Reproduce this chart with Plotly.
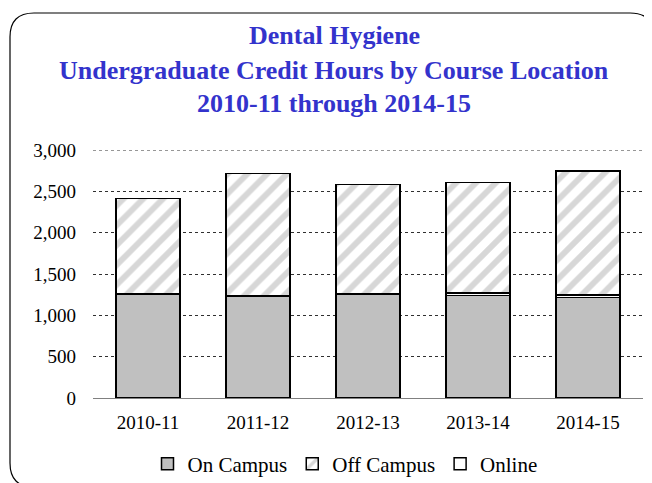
import plotly.graph_objects as go

years = ["2010-11", "2011-12", "2012-13", "2013-14", "2014-15"]
on_campus = [1260, 1232, 1255, 1240, 1216]
online = [0, 0, 8, 28, 32]
off_campus = [1152, 1484, 1317, 1336, 1500]
y_ticks = [0, 500, 1000, 1500, 2000, 2500, 3000]
y_tick_labels = ["0", "500", "1,000", "1,500", "2,000", "2,500", "3,000"]
title_lines = ["Dental Hygiene", "Undergraduate Credit Hours by Course Location", "2010-11 through 2014-15"]

OFF = 8  # page body margin
W, H = 652 - OFF, 483 - OFF
L, R, T, B = 93 - OFF, 643 - OFF, 150 - OFF, 398 - OFF
YMAX = 3000

font = "Liberation Serif, Times New Roman, serif"
line = dict(color="black", width=1.5)

fig = go.Figure()
fig.add_trace(go.Bar(x=years, y=on_campus, name="On Campus", legendrank=1,
                     marker=dict(color="#c0c0c0", line=line)))
fig.add_trace(go.Bar(x=years, y=online, name="Online", legendrank=3,
                     marker=dict(color="white", line=line)))
fig.add_trace(go.Bar(x=years, y=off_campus, name="Off Campus", legendrank=2,
                     marker=dict(color="white", line=line,
                                 pattern=dict(shape="/", fgcolor="#b0b0b0", bgcolor="white",
                                              size=14, solidity=0.42))))

def px(x):
    return (x - OFF - L) / (R - L)

def py(y):
    return (B - (y - OFF)) / (B - T)

x0, x1, y0, y1, r = 10, 654, 13, 487, 24
path = (f"M {px(x0 + r)},{py(y0)} L {px(x1 - r)},{py(y0)} "
        f"Q {px(x1)},{py(y0)} {px(x1)},{py(y0 + r)} "
        f"L {px(x1)},{py(y1 - r)} Q {px(x1)},{py(y1)} {px(x1 - r)},{py(y1)} "
        f"L {px(x0 + r)},{py(y1)} Q {px(x0)},{py(y1)} {px(x0)},{py(y1 - r)} "
        f"L {px(x0)},{py(y0 + r)} Q {px(x0)},{py(y0)} {px(x0 + r)},{py(y0)} Z")

annotations = []
for txt, yc in zip(title_lines, [35, 70, 104]):
    annotations.append(dict(text=f"<b>{txt}</b>", x=px(334), y=py(yc), xref="paper", yref="paper",
                            xanchor="center", yanchor="middle", showarrow=False,
                            font=dict(family=font, size=26, color="#3333cc")))

fig.update_layout(
    width=W, height=H,
    margin=dict(l=L, r=W - R, t=T, b=H - B, pad=0, autoexpand=False),
    barmode="stack", bargap=0.42,
    paper_bgcolor="white", plot_bgcolor="white",
    font=dict(family=font, size=19, color="black"),
    legend=dict(orientation="h", x=px(345), xanchor="center", y=py(464), yanchor="middle",
                font=dict(family=font, size=21), traceorder="normal",
                itemwidth=30, tracegroupgap=0, bgcolor="rgba(0,0,0,0)"),
    showlegend=True,
    annotations=annotations,
    shapes=[dict(type="path", path=path, xref="paper", yref="paper",
                 line=dict(color="black", width=1.2), layer="below"),
            dict(type="line", xref="paper", yref="y", x0=0, x1=1, y0=YMAX, y1=YMAX,
                 line=dict(color="#303030", width=1, dash="dot"), layer="below")],
)
fig.update_yaxes(range=[0, YMAX], tickvals=y_ticks, ticktext=y_tick_labels,
                 showgrid=True, gridcolor="#303030", griddash="dot", gridwidth=1,
                 zeroline=False, showline=False, ticks="", ticklabelstandoff=16,
                 automargin=False, tickfont=dict(size=19))
fig.update_xaxes(type="category", showline=True, linecolor="#808080", linewidth=1.2, ticks="",
                 ticklabelstandoff=7, automargin=False, tickfont=dict(size=19))

fig.write_html("out.html")
